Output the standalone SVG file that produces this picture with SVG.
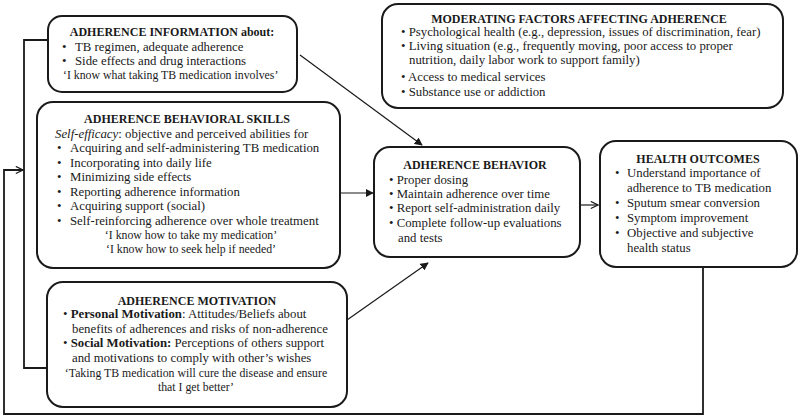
<svg xmlns="http://www.w3.org/2000/svg" width="800" height="419" viewBox="0 0 800 419">
<defs>
<style>
.box{fill:#fff;stroke:#1a1a1a;stroke-width:2}
text{font-family:"Liberation Serif","Times New Roman",serif;fill:#1a1a1a}
.t{font-size:12px;font-weight:bold;text-anchor:middle}
.b{font-size:12.8px}
.q{font-size:11.8px}
.qc{font-size:11.8px;text-anchor:middle}
.ln{fill:none;stroke:#1a1a1a;stroke-width:1.2}
.fb{fill:none;stroke:#1a1a1a;stroke-width:1.8}
</style>
<marker id="fa" viewBox="0 0 10 10" refX="9" refY="5" markerWidth="8" markerHeight="8" markerUnits="userSpaceOnUse" orient="auto">
<path d="M0,0L10,5L0,10z" fill="#1a1a1a"/>
</marker>
<marker id="oa" viewBox="0 0 10 10" refX="9" refY="5" markerWidth="9" markerHeight="9" markerUnits="userSpaceOnUse" orient="auto">
<path d="M1,1L9,5L1,9" fill="none" stroke="#1a1a1a" stroke-width="1.3"/>
</marker>
</defs>
<rect width="800" height="419" fill="#fff"/>

<g id="connectors">
<path class="fb" d="M48,40H24V368H47"/>
<path class="fb" d="M703,267V414H4V170H23" marker-end="url(#oa)"/>
<path class="ln" d="M300,55L422,145" marker-end="url(#fa)"/>
<path class="ln" d="M340,193H373" marker-end="url(#fa)"/>
<path class="ln" d="M347,320L428,263" marker-end="url(#fa)"/>
<path class="ln" d="M580,205H598" marker-end="url(#oa)"/>
</g>

<g id="information">
<rect class="box" x="48" y="16" width="249" height="76" rx="14"/>
<text class="t" x="172" y="36">ADHERENCE INFORMATION about:</text>
<text class="b" x="62" y="51">•</text><text class="b" x="75" y="51">TB regimen, adequate adherence</text>
<text class="b" x="62" y="65">•</text><text class="b" x="75" y="65">Side effects and drug interactions</text>
<text class="q" x="63" y="79">‘I know what taking TB medication involves’</text>
</g>

<g id="skills">
<rect class="box" x="37" y="102" width="303" height="166" rx="16"/>
<text class="t" x="187" y="123">ADHERENCE BEHAVIORAL SKILLS</text>
<text class="b" x="55" y="138"><tspan font-style="italic">Self-efficacy</tspan>: objective and perceived abilities for</text>
<text class="b" x="57" y="152">•</text><text class="b" x="70" y="152">Acquiring and self-administering TB medication</text>
<text class="b" x="57" y="167">•</text><text class="b" x="70" y="167">Incorporating into daily life</text>
<text class="b" x="57" y="181">•</text><text class="b" x="70" y="181">Minimizing side effects</text>
<text class="b" x="57" y="196">•</text><text class="b" x="70" y="196">Reporting adherence information</text>
<text class="b" x="57" y="210">•</text><text class="b" x="70" y="210">Acquiring support (social)</text>
<text class="b" x="57" y="225">•</text><text class="b" x="70" y="225">Self-reinforcing adherence over whole treatment</text>
<text class="qc" x="191" y="239">‘I know how to take my medication’</text>
<text class="qc" x="191" y="253">‘I know how to seek help if needed’</text>
</g>

<g id="motivation">
<rect class="box" x="47" y="282" width="300" height="125" rx="16"/>
<text class="t" x="197" y="305">ADHERENCE MOTIVATION</text>
<text class="b" x="63" y="318">• <tspan font-weight="bold">Personal Motivation</tspan>: Attitudes/Beliefs about</text>
<text class="b" x="72" y="333">benefits of adherences and risks of non-adherence</text>
<text class="b" x="63" y="347">• <tspan font-weight="bold">Social Motivation:</tspan> Perceptions of others support</text>
<text class="b" x="72" y="362">and motivations to comply with other’s wishes</text>
<text class="qc" x="196" y="377">‘Taking TB medication will cure the disease and ensure</text>
<text class="qc" x="196" y="391">that I get better’</text>
</g>

<g id="moderating">
<rect class="box" x="382" y="4" width="401" height="104" rx="16"/>
<text class="t" x="579" y="23">MODERATING FACTORS AFFECTING ADHERENCE</text>
<text class="b" x="401" y="36">• Psychological health (e.g., depression, issues of discrimination, fear)</text>
<text class="b" x="401" y="50">• Living situation (e.g., frequently moving, poor access to proper</text>
<text class="b" x="409" y="64">nutrition, daily labor work to support family)</text>
<text class="b" x="401" y="81">• Access to medical services</text>
<text class="b" x="401" y="96">• Substance use or addiction</text>
</g>

<g id="behavior">
<rect class="box" x="374" y="147" width="206" height="110" rx="16"/>
<text class="t" x="475" y="169">ADHERENCE BEHAVIOR</text>
<text class="b" x="389" y="184">• Proper dosing</text>
<text class="b" x="389" y="198">• Maintain adherence over time</text>
<text class="b" x="389" y="212">• Report self-administration daily</text>
<text class="b" x="389" y="227">• Complete follow-up evaluations</text>
<text class="b" x="398" y="242">and tests</text>
</g>

<g id="outcomes">
<rect class="box" x="600" y="141" width="197" height="126" rx="16"/>
<text class="t" x="698" y="163">HEALTH OUTCOMES</text>
<text class="b" x="615" y="177">•</text><text class="b" x="627" y="177">Understand importance of</text>
<text class="b" x="627" y="192">adherence to TB medication</text>
<text class="b" x="615" y="207">•</text><text class="b" x="627" y="207">Sputum smear conversion</text>
<text class="b" x="615" y="222">•</text><text class="b" x="627" y="222">Symptom improvement</text>
<text class="b" x="615" y="237">•</text><text class="b" x="627" y="237">Objective and subjective</text>
<text class="b" x="627" y="252">health status</text>
</g>
</svg>
